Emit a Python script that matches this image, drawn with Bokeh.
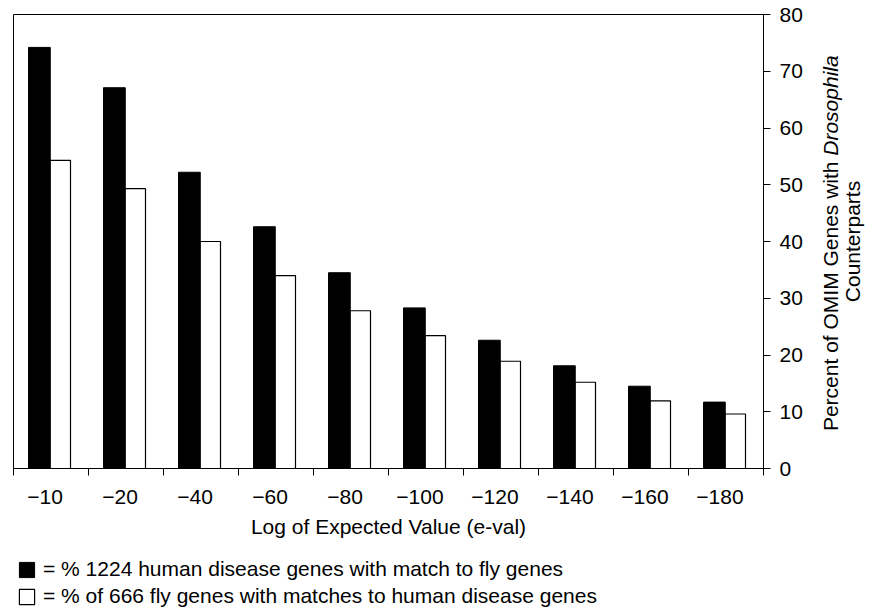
from bokeh.plotting import figure
from bokeh.layouts import row, column
from bokeh.models import (ColumnDataSource, LinearAxis, FixedTicker, Label, Legend, LegendItem, Range1d)
from bokeh.embed import file_html
from bokeh.resources import INLINE

categories = ["\u221210", "\u221220", "\u221240", "\u221260", "\u221280",
              "\u2212100", "\u2212120", "\u2212140", "\u2212160", "\u2212180"]
human_pct = [74.2, 67.1, 52.2, 42.6, 34.5, 28.3, 22.6, 18.1, 14.5, 11.7]
fly_pct = [54.3, 49.3, 40.0, 34.0, 27.8, 23.4, 18.9, 15.2, 11.9, 9.6]
y_ticks = [0, 10, 20, 30, 40, 50, 60, 70, 80]
legend_labels = ["= % 1224 human disease genes with match to fly genes",
                 "= % of 666 fly genes with matches to human disease genes"]

FONT = "Liberation Sans"
FS = "21px"
H = 556
TOP = 14
BOTTOM = 88

idx = list(range(len(categories)))
src = ColumnDataSource(dict(
    xb=[i + 0.345 for i in idx],
    xw=[i + 0.625 for i in idx],
    human=human_pct,
    fly=fly_pct,
))

yr = Range1d(0, 80)
p = figure(width=810, height=H, output_backend="svg", toolbar_location=None,
           x_range=Range1d(0, len(categories)), y_range=yr,
           min_border_left=13, min_border_top=TOP, min_border_right=47,
           min_border_bottom=BOTTOM)
p.xaxis.visible = False
p.yaxis.visible = False
p.xgrid.visible = False
p.ygrid.visible = False
p.outline_line_color = "black"
p.outline_line_width = 1
p.background_fill_color = "white"
p.border_fill_color = "white"

black_style = dict(fill_color="black", line_color="black")
white_style = dict(fill_color="white", line_color="black", line_width=1.2)
rb = p.vbar(x="xb", top="human", width=0.29, source=src, **black_style)
rw = p.vbar(x="xw", top="fly", width=0.27, source=src, **white_style)

label_pos = [i + 0.42 for i in idx]
xax = LinearAxis(ticker=FixedTicker(ticks=label_pos, minor_ticks=list(range(len(categories) + 1))),
                 major_label_overrides={pos: lab for pos, lab in zip(label_pos, categories)},
                 axis_label="Log of Expected Value (e-val)")
xax.major_tick_out = 0
xax.major_tick_in = 0
xax.minor_tick_out = 7
xax.minor_tick_in = 0
xax.major_label_standoff = 14
xax.axis_label_standoff = 8
xax.major_label_text_font = FONT
xax.major_label_text_font_size = FS
xax.major_label_text_color = "black"
xax.axis_label_text_font = FONT
xax.axis_label_text_font_size = FS
xax.axis_label_text_font_style = "normal"
xax.axis_label_text_color = "black"
xax.axis_line_color = "black"
p.add_layout(xax, "below")

yax = LinearAxis(ticker=FixedTicker(ticks=y_ticks, minor_ticks=[]))
yax.major_tick_out = 7
yax.major_tick_in = 0
yax.major_label_standoff = 9
yax.major_label_text_font = FONT
yax.major_label_text_font_size = FS
yax.major_label_text_color = "black"
yax.axis_line_color = "black"
p.add_layout(yax, "right")

# right-hand panel holding the rotated axis title (mixed styles)
p2 = figure(width=65, height=H, output_backend="svg", toolbar_location=None,
            x_range=Range1d(0, 1), y_range=yr,
            min_border_left=0, min_border_right=0, min_border_top=TOP,
            min_border_bottom=BOTTOM)
p2.axis.visible = False
p2.grid.visible = False
p2.outline_line_color = None
p2.background_fill_color = "white"
p2.border_fill_color = "white"

ang = 1.5707963267948966
p2.add_layout(Label(x=0.3, y=54.1, text="Percent of OMIM Genes with", angle=ang,
                    text_align="right", text_baseline="middle",
                    text_font=FONT, text_font_size=FS, text_color="black"))
p2.add_layout(Label(x=0.3, y=72.8, text="Drosophila", angle=ang,
                    text_align="right", text_baseline="middle",
                    text_font=FONT, text_font_size=FS, text_font_style="italic", text_color="black"))
p2.add_layout(Label(x=0.65, y=40.0, text="Counterparts", angle=ang,
                    text_align="center", text_baseline="middle",
                    text_font=FONT, text_font_size=FS, text_color="black"))

# legend panel below the chart (its bar renderers lie outside its visible range)
pl = figure(width=875, height=56, output_backend="svg", toolbar_location=None,
            x_range=Range1d(0, 1), y_range=Range1d(500, 501),
            min_border=0)
pl.axis.visible = False
pl.grid.visible = False
pl.outline_line_color = None
pl.background_fill_color = "white"
pl.border_fill_color = "white"
lb = pl.vbar(x="xb", top="human", width=0.29, source=src, **black_style)
lw = pl.vbar(x="xw", top="fly", width=0.27, source=src, **white_style)

legend = Legend(items=[
    LegendItem(label=legend_labels[0], renderers=[lb]),
    LegendItem(label=legend_labels[1], renderers=[lw]),
], orientation="vertical")
legend.glyph_width = 19
legend.glyph_height = 19
legend.label_standoff = 7
legend.spacing = 3
legend.padding = 4
legend.margin = 0
legend.border_line_alpha = 0
legend.background_fill_alpha = 0
legend.label_text_font = FONT
legend.label_text_font_size = FS
legend.label_text_color = "black"
legend.location = (13, 0)
pl.add_layout(legend, "center")

layout = column(row(p, p2, spacing=0), pl, spacing=0)
open("out.html", "w").write(file_html(layout, INLINE))
